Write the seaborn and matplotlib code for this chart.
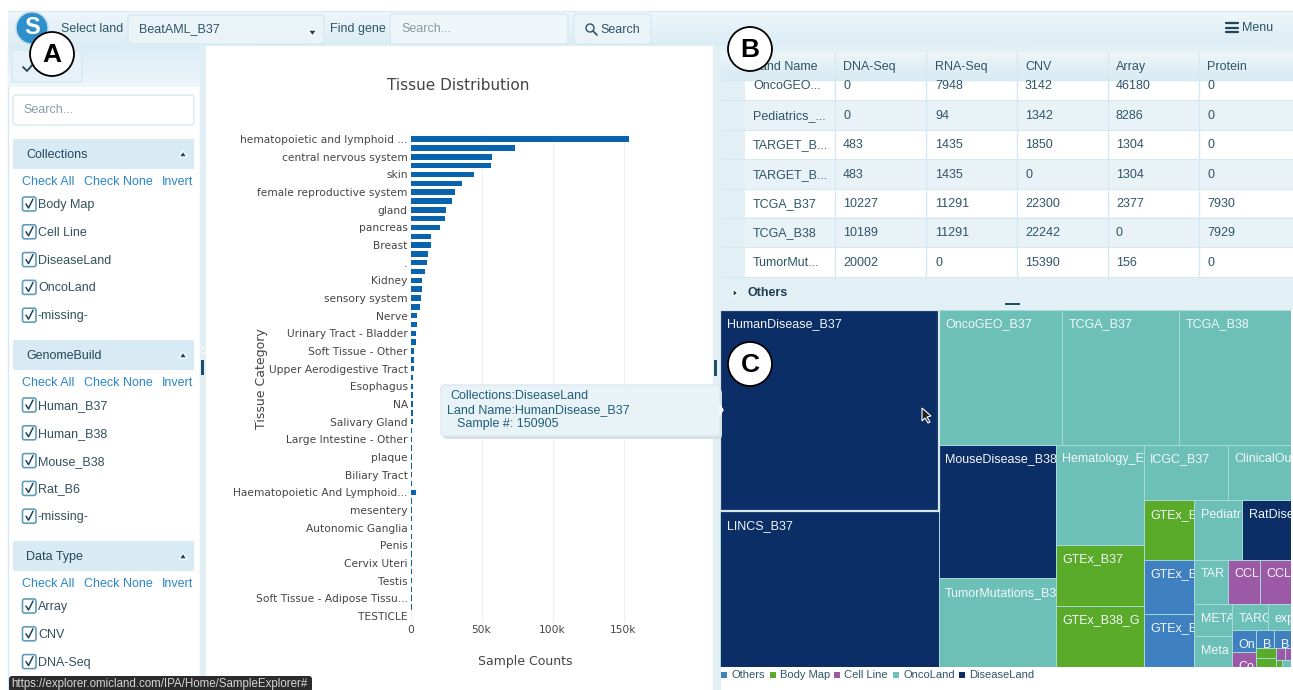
import numpy as np
import pandas as pd
import matplotlib
matplotlib.use('Agg')
import matplotlib.pyplot as plt
import seaborn as sns
from matplotlib.patches import Rectangle, FancyBboxPatch, Circle, Polygon

# bar chart data
tick_labels = ["hematopoietic and lymphoid ...", "central nervous system", "skin", "female reproductive system",
               "gland", "pancreas", "Breast", ".", "Kidney", "sensory system", "Nerve", "Urinary Tract - Bladder",
               "Soft Tissue - Other", "Upper Aerodigestive Tract", "Esophagus", "NA", "Salivary Gland",
               "Large Intestine - Other", "plaque", "Biliary Tract", "Haematopoietic And Lymphoid...", "mesentery",
               "Autonomic Ganglia", "Penis", "Cervix Uteri", "Testis", "Soft Tissue - Adipose Tissu...", "TESTICLE"]
sample_counts = [154000, 73600, 57500, 57000, 44800, 36400, 31000, 29300, 25000, 24000, 20600, 14600, 14300, 12400,
                 11700, 10000, 8200, 8000, 7300, 7000, 4900, 4400, 4000, 3700, 2800, 2400, 2200, 2000, 1900, 1800,
                 1700, 1600, 1500, 1400, 1300, 1300, 1200, 1200, 1100, 1100, 4000, 1100, 1100, 1000, 1000, 1000, 1000,
                 900, 900, 900, 900, 900, 900, 900, 0]
x_ticks = [0, 50000, 100000, 150000]
x_tick_labels = ["0", "50k", "100k", "150k"]

# table data
table_cols = ["Land Name", "DNA-Seq", "RNA-Seq", "CNV", "Array", "Protein"]
land_names = ["OncoGEO...", "Pediatrics_...", "TARGET_B...", "TARGET_B...", "TCGA_B37", "TCGA_B38", "TumorMut..."]
dna_seq = [0, 0, 483, 483, 10227, 10189, 20002]
rna_seq = [7948, 94, 1435, 1435, 11291, 11291, 0]
cnv = [3142, 1342, 1850, 0, 22300, 22242, 15390]
array_col = [46180, 8286, 1304, 1304, 2377, 0, 156]
protein = [0, 0, 0, 0, 7930, 7929, 0]

# sidebar data
collections = ["Body Map", "Cell Line", "DiseaseLand", "OncoLand", "-missing-"]
genome_builds = ["Human_B37", "Human_B38", "Mouse_B38", "Rat_B6", "-missing-"]
data_types = ["Array", "CNV", "DNA-Seq"]

# treemap data, nested as (direction, children) with leaves (label, samples, group)
group_names = ["Others", "Body Map", "Cell Line", "OncoLand", "DiseaseLand"]
group_colors = ["#3f80c0", "#5aab2a", "#9b59a6", "#6cc0b8", "#0b2e66"]
tiny_lands = ("h", [("v", [("On", 1795, "Others"), ("Co", 1224, "Cell Line")]),
                    ("v", [("h", [("B", 1100, "Others"), ("B", 1040, "Others")]),
                           ("h", [("v", [("", 650, "Body Map"), ("", 580, "Body Map")]),
                                  ("v", [("h", [("", 370, "Cell Line"), ("", 245, "Cell Line")]),
                                         ("h", [("", 143, "Body Map"), ("", 214, "OncoLand")])])])])])
small_lands = ("v", [("h", [("Pediatr", 9722, "OncoLand"), ("RatDise", 10000, "DiseaseLand")]),
                     ("h", [("TAR", 5072, "OncoLand"), ("CCL", 4900, "Cell Line"),
                            ("CCL", 4740, "Cell Line")]),
                     ("h", [("v", [("META", 4130, "OncoLand"), ("Meta", 4000, "OncoLand")]),
                            ("v", [("h", [("TARG", 3222, "OncoLand"), ("exp", 2030, "OncoLand")]),
                                   tiny_lands])])])
land_tree = ("h", [("v", [("HumanDisease_B37", 150905, "DiseaseLand"), ("LINCS_B37", 116700, "DiseaseLand")]),
                   ("v", [("h", [("OncoGEO_B37", 57270, "OncoLand"), ("TCGA_B37", 54125, "OncoLand"),
                                 ("TCGA_B38", 51651, "OncoLand")]),
                          ("h", [("v", [("MouseDisease_B38", 53500, "DiseaseLand"),
                                        ("TumorMutations_B3", 35548, "OncoLand")]),
                                 ("v", [("Hematology_E", 30000, "OncoLand"), ("GTEx_B37", 18500, "Body Map"),
                                        ("GTEx_B38_G", 18400, "Body Map")]),
                                 ("v", [("h", [("ICGC_B37", 16000, "OncoLand"), ("ClinicalOu", 12000, "OncoLand")]),
                                        ("h", [("v", [("GTEx_E", 10300, "Body Map"), ("GTEx_E", 9400, "Others"),
                                                      ("GTEx_E", 9300, "Others")]),
                                               small_lands])])])])])

sns.set_style("white")
plt.rcParams['font.family'] = ['Liberation Sans', 'DejaVu Sans']

fig = plt.figure(figsize=(12.93, 6.90), dpi=100)
W, H = 1293, 690


def px_axes(x0, y0, x1, y1, z):
    return fig.add_axes([x0 / W, 1 - y1 / H, (x1 - x0) / W, (y1 - y0) / H], zorder=z)


# background in pixel coordinates
ui = px_axes(0, 0, W, H, 0)

TXT = "#2f5566"
LINK = "#2a86c8"
PALE = "#e2f0f6"
EDGE = "#d6e9f2"


def box(ax, x0, y0, x1, y1, fc, ec="none", round=0, lw=1, z=1):
    if round:
        p = FancyBboxPatch((x0, y0), x1 - x0, y1 - y0, boxstyle="round,pad=0,rounding_size=%s" % round,
                           fc=fc, ec=ec, lw=lw, zorder=z)
    else:
        p = Rectangle((x0, y0), x1 - x0, y1 - y0, fc=fc, ec=ec, lw=lw, zorder=z)
    ax.add_patch(p)
    return p


def shade(ax, x0, y0, x1, y1, c0, c1, z=1):
    cmap = matplotlib.colors.LinearSegmentedColormap.from_list("band", [c0, c1])
    ax.imshow(np.linspace(0, 1, 32).reshape(-1, 1), cmap=cmap, extent=(x0, x1, y1, y0), aspect="auto", zorder=z)


def label(ax, x, y, s, size=9, color=TXT, ha="left", **kw):
    return ax.text(x, y + 1, s, fontsize=size, color=color, ha=ha, va="center", zorder=4, **kw)


# top bar
shade(ui, 8, 11, W, 46, "#eef6fa", "#dcedf5")
box(ui, 8, 11, W, 12, EDGE)
box(ui, 128, 15, 324, 44, "#e9f3f8", EDGE, 3)
box(ui, 390, 14, 568, 44, "#eef6fa", EDGE, 3)
box(ui, 574, 14, 651, 44, "#e9f3f8", EDGE, 3)
ui.add_patch(Circle((32, 28), 16, fc="#2f8fcb", ec="#bcdcec", lw=1, zorder=2))
label(ui, 32, 27, "S", 17, "white", ha="center", fontweight="bold")
label(ui, 61, 28, "Select land")
label(ui, 139, 28, "BeatAML_B37")
ui.add_patch(Polygon([[308, 30], [317, 30], [312.5, 36]], fc="#2c3e50", zorder=3))
label(ui, 330, 28, "Find gene")
label(ui, 401, 28, "Search...", color="#8a9ba3")
label(ui, 600, 29, "Search")
ui.add_patch(Circle((590, 28), 4, fc="none", ec=TXT, lw=1, zorder=3))
ui.plot([593, 597], [31, 35], color=TXT, lw=1.2, zorder=3)
for yy in [23, 27.5, 32]:
    ui.plot([1226, 1238], [yy, yy], color="#22445a", lw=1.6, zorder=3)
label(ui, 1242, 27, "Menu")

# left panel
box(ui, 8, 46, 200, 690, "white", EDGE)
shade(ui, 8, 46, 200, 87, "#dcedf5", "#eef6fa")
box(ui, 12, 50, 82, 82, "#e6f2f8", EDGE, 3)
ui.plot([23, 27, 34], [67, 71, 63], color="#22445a", lw=1.3, zorder=3)
box(ui, 13, 95, 194, 125, "white", EDGE, 3)
label(ui, 23, 109, "Search...", color="#8a9ba3")
box(ui, 200, 46, 206, 690, PALE)
box(ui, 713, 46, 721, 690, PALE)
box(ui, 201, 360, 204, 375, "#1f4e6b")
box(ui, 714, 360, 717, 376, "#1f4e6b")
ui.add_patch(Polygon([[201, 351], [204, 349], [204, 353]], fc="#1f4e6b", zorder=3))


def filter_group(title, items, top):
    box(ui, 13, top, 194, top + 30, "#d8eaf3")
    label(ui, 26, top + 15, title, color="#24495c")
    ui.add_patch(Polygon([[179, top + 18], [187, top + 18], [183, top + 12]], fc="#22445a", zorder=3))
    label(ui, 22, top + 42, "Check All", color=LINK)
    label(ui, 84, top + 42, "Check None", color=LINK)
    label(ui, 162, top + 42, "Invert", color=LINK)
    for i, item in enumerate(items):
        yy = top + 65 + i * 27.8
        box(ui, 22.5, yy - 7, 36, yy + 7, "white", "#5f9db8", 2, 1.2)
        ui.plot([26, 28.5, 33], [yy, yy + 4, yy - 5], color="#22445a", lw=1.1, zorder=3)
        label(ui, 38, yy, item, color="#33505e")


filter_group("Collections", collections, 139)
filter_group("GenomeBuild", genome_builds, 340)
filter_group("Data Type", data_types, 541)
box(ui, 9, 676, 312, 692, "#2b2b2b", "none", 3, z=5)
ui.text(11, 684, "https://explorer.omicland.com/IPA/Home/SampleExplorer#", fontsize=8.3, color="#d5d5d5",
        va="center", zorder=6)

# table
box(ui, 721, 46, W, 310, PALE)
col_x = [835, 926, 1017, 1108, 1199]
text_x = [753, 843, 935, 1025, 1116, 1207]
row_y = [85, 115, 144, 174, 203, 232, 262]
box(ui, 745, 80, W, 277, "white")
for i in range(1, len(row_y), 2):
    box(ui, 745, row_y[i] - 15, W, row_y[i] + 15, "#e8f2f7")
table_rows = list(zip(land_names, dna_seq, rna_seq, cnv, array_col, protein))
for yy, row in zip(row_y, table_rows):
    for xx, val in zip(text_x, row):
        label(ui, xx, yy, str(val))
    ui.plot([721, W], [yy + 15, yy + 15], color=EDGE, lw=0.8, zorder=2)
shade(ui, 721, 52, W, 80, "#edf5f9", "#d9ebf3", z=2)
ui.plot([721, W], [80, 80], color=EDGE, lw=1, zorder=3)
for xx, name in zip(text_x, table_cols):
    label(ui, xx, 66, name)
for xx in col_x:
    ui.plot([xx, xx], [52, 277], color=EDGE, lw=1, zorder=3)
ui.add_patch(Polygon([[733, 289], [733, 297], [738, 293]], fc="#1f3d52", zorder=3))
label(ui, 747, 292, "Others", color="#1c3e55", fontweight="bold")
box(ui, 1005, 303, 1020, 305, "#1f4e6b")
box(ui, 721, 667, W, 690, "white")

# legend under the treemap
legend_x = [721, 770, 834, 893, 959]
for xx, name, col in zip(legend_x, group_names, group_colors):
    box(ui, xx, 672, xx + 6, 678, col)
    label(ui, xx + 10, 674, name, 8)

ui.set_xlim(0, W)
ui.set_ylim(H, 0)
ui.axis("off")

# bar chart
df = pd.DataFrame({"rank": np.arange(len(sample_counts)), "count": sample_counts})
ax = px_axes(410.5, 133, 680, 622, 2)
ax.patch.set_alpha(0)
sns.barplot(data=df, x="count", y="rank", orient="h", native_scale=True, color="#0a64ad", saturation=1,
            width=0.62, linewidth=0, ax=ax)
ax.set_xlim(0, 269.5 / 71 * 50000)
ax.set_ylim(54.7, -0.7)
ax.set_xticks(x_ticks)
ax.set_xticklabels(x_tick_labels)
ax.set_yticks(np.arange(len(tick_labels)) * 2)
ax.set_yticklabels(tick_labels)
ax.tick_params(axis="both", length=0, labelsize=7.65, labelcolor="#444444", pad=2)
for t in ax.get_xticklabels() + ax.get_yticklabels():
    t.set_family("DejaVu Sans")
ax.xaxis.grid(True, color="#f0f0f0", lw=0.8)
ax.yaxis.grid(False)
ax.set_axisbelow(True)
sns.despine(ax=ax, left=True, bottom=True)
ax.set_xlabel("")
ax.set_ylabel("")
label(ui, 458, 85, "Tissue Distribution", 11, "#444444", ha="center", family="DejaVu Sans")
label(ui, 525, 660, "Sample Counts", 9, "#444444", ha="center", family="DejaVu Sans")
ui.text(261, 379, "Tissue Category", fontsize=9, color="#444444", rotation=90, ha="center", va="center",
        family="DejaVu Sans", zorder=4)


# treemap: slice each node by the share of its children
def node_total(node):
    if len(node) == 3:
        return node[1]
    return sum(node_total(c) for c in node[1])


def draw_tree(tree_ax, node, x, y, w, h):
    if len(node) == 3:
        name, _, group = node
        p = Rectangle((x, y), w, h, fc=group_colors[group_names.index(group)], ec="#a9d9d6", lw=0.7)
        tree_ax.add_patch(p)
        if name == "HumanDisease_B37":
            p.set(edgecolor="#d8e6ec", linewidth=1.6, zorder=3)
        if name:
            t = tree_ax.text(x + 6.5 / 571, y + 14.5 / 357, name, color="#f2f6f8", fontsize=9, va="center",
                             clip_on=True, zorder=4)
            t.set_clip_path(p)
        return
    total = node_total(node)
    for child in node[1]:
        share = node_total(child) / total
        if node[0] == "h":
            draw_tree(tree_ax, child, x, y, w * share, h)
            x += w * share
        else:
            draw_tree(tree_ax, child, x, y, w, h * share)
            y += h * share


tree_ax = px_axes(720, 310, 1291, 667, 2)
tree_ax.set_xlim(0, 1)
tree_ax.set_ylim(1, 0)
tree_ax.axis("off")
draw_tree(tree_ax, land_tree, 0, 0, 1, 1)

# overlay: tooltip, cursor, panel letters
top = px_axes(0, 0, W, H, 5)
box(top, 443, 389, 722, 439, "#d3e0e6", round=4, z=1)
box(top, 441, 385, 720, 436, "#e8f2f7", "#dbe9f0", 4, z=2)
top.add_patch(Polygon([[720, 405], [723, 410], [720, 415]], fc="#e8f2f7", zorder=2))
TIP = "#1f6079"
label(top, 450, 395, "Collections:DiseaseLand", 9, TIP)
label(top, 447, 409, "Land Name:HumanDisease_B37", 9, TIP)
label(top, 457, 423, "Sample #: 150905", 9, TIP)
top.add_patch(Polygon([[922, 408], [922, 421], [925, 418], [928, 423], [930, 422], [927, 417], [931, 416]],
                      fc="#222222", ec="white", lw=0.8, zorder=3))
for letter, cx, cy in [("A", 52, 54), ("B", 750, 49), ("C", 750, 364)]:
    top.add_patch(Circle((cx, cy), 22, fc="white", ec="black", lw=1.3, zorder=6))
    top.text(cx, cy + 1, letter, fontsize=19, fontweight="bold", color="black", ha="center", va="center",
             family="Liberation Sans", zorder=7)
top.set_xlim(0, W)
top.set_ylim(H, 0)
top.axis("off")

fig.savefig("out.png", dpi=100)
plt.close()
